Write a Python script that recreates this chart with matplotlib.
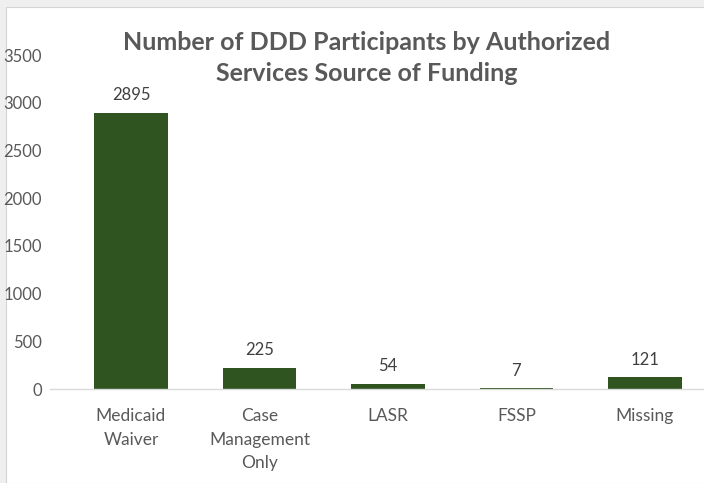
import matplotlib.pyplot as plt
from matplotlib.patches import Rectangle

categories = ["Medicaid\nWaiver", "Case\nManagement\nOnly", "LASR", "FSSP", "Missing"]
participants = [2895, 225, 54, 7, 121]
y_ticks = [0, 500, 1000, 1500, 2000, 2500, 3000, 3500]

plt.rcParams['font.family'] = ['Lato', 'DejaVu Sans']

fig = plt.figure(figsize=(7.04, 4.83), dpi=100)
fig.patch.set_facecolor('#efefef')
# white chart area inside the thin gray frame
fig.patches.append(Rectangle((6 / 704, 0), 1, 1 - 7 / 483, transform=fig.transFigure,
                             facecolor='white', edgecolor='#d4d4d4', linewidth=0.8, zorder=-10))

ax = fig.add_axes([50 / 704, 1 - 389 / 483, 1 - 50 / 704, (389 - 55) / 483])
ax.set_facecolor('none')

x = range(len(categories))
bars = ax.bar(x, participants, width=0.57, color='#2f5420')
for b, v in zip(bars, participants):
    ax.annotate(str(v), (b.get_x() + b.get_width() / 2, v), xytext=(0, 7),
                textcoords='offset points', ha='center', va='bottom',
                fontsize=12, color='#404040')

ax.set_xlim(-0.63, 4.46)
ax.set_ylim(0, 3500)
ax.set_yticks(y_ticks)
ax.set_xticks(list(x))
ax.set_xticklabels(categories, fontsize=12.5, color='#595959', linespacing=1.55)
ax.tick_params(axis='y', labelsize=12, labelcolor='#595959', length=0, pad=6)
ax.tick_params(axis='x', length=0, pad=14)

for s in ['top', 'right', 'left']:
    ax.spines[s].set_visible(False)
ax.spines['bottom'].set_color('#d9d9d9')
ax.spines['bottom'].set_linewidth(1)

fig.text(367 / 704, 1 - 58 / 483, "Number of DDD Participants by Authorized\nServices Source of Funding",
         ha='center', va='center', fontsize=18, fontweight='bold', color='#595959', linespacing=1.45)

fig.savefig('out.png', dpi=100, facecolor=fig.get_facecolor())
